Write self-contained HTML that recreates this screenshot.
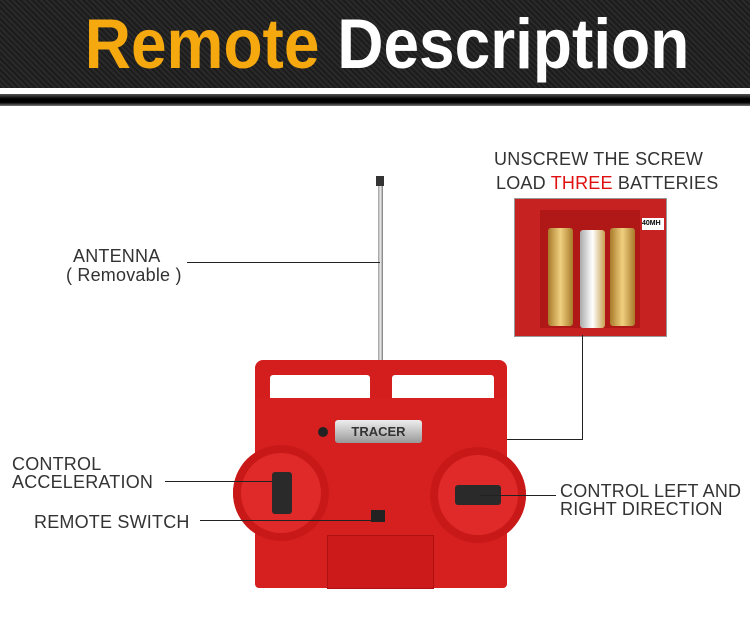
<!DOCTYPE html>
<html><head><meta charset="utf-8"><style>
body{margin:0;width:750px;height:633px;background:#fff;position:relative;overflow:hidden;font-family:"Liberation Sans",sans-serif}
.a{position:absolute}
.t{position:absolute;font-size:18px;color:#333;line-height:18px;letter-spacing:0.2px}
.l{position:absolute;background:#222}
</style></head><body>
<div class="a" style="left:0;top:0;width:750px;height:88px;background:repeating-linear-gradient(45deg,#1c1c1c 0 2px,#2a2a2a 2px 4px)"></div>
<div class="a" style="left:12px;top:8px;width:750px;text-align:center;font:bold 64px 'Liberation Sans',sans-serif;letter-spacing:0;line-height:72px;transform:scaleY(1.1)"><span style="color:#f6a80f">Remote</span> <span style="color:#fff">Description</span></div>
<div class="a" style="left:0;top:94px;width:750px;height:12px;background:linear-gradient(#555,#000 40%,#000 70%,#777)"></div>

<div class="a" style="left:376px;top:176px;width:8px;height:10px;background:#333"></div>
<div class="a" style="left:378px;top:186px;width:5px;height:176px;background:linear-gradient(90deg,#999,#eee,#777)"></div>

<div class="a" style="left:255px;top:360px;width:252px;height:42px;background:#d41d1d;border-radius:8px 8px 0 0"></div>
<div class="a" style="left:270px;top:375px;width:100px;height:25px;background:#fff;border-radius:3px 3px 0 0"></div>
<div class="a" style="left:392px;top:375px;width:102px;height:25px;background:#fff;border-radius:3px 3px 0 0"></div>
<div class="a" style="left:255px;top:398px;width:252px;height:190px;background:#d62020;border-radius:0 0 4px 4px"></div>
<div class="a" style="left:327px;top:535px;width:105px;height:52px;background:#cc1a1a;border:1px solid #b01010"></div>
<div class="a" style="left:318px;top:427px;width:10px;height:10px;border-radius:50%;background:#222"></div>
<div class="a" style="left:335px;top:420px;width:87px;height:23px;background:linear-gradient(#eee,#999);border-radius:3px;font:bold 13px 'Liberation Sans',sans-serif;text-align:center;line-height:23px;color:#333">TRACER</div>
<div class="a" style="left:233px;top:445px;width:96px;height:96px;border-radius:50%;background:#e02a2a;box-shadow:inset 0 0 0 8px #c81818"></div>
<div class="a" style="left:430px;top:447px;width:96px;height:96px;border-radius:50%;background:#e02a2a;box-shadow:inset 0 0 0 8px #c81818"></div>
<div class="a" style="left:272px;top:472px;width:20px;height:42px;background:#2a2a2a;border-radius:3px"></div>
<div class="a" style="left:455px;top:485px;width:46px;height:20px;background:#2a2a2a;border-radius:3px"></div>
<div class="a" style="left:371px;top:510px;width:14px;height:12px;background:#222"></div>

<div class="a" style="left:514px;top:198px;width:151px;height:137px;background:#c62222;border:1px solid #999"></div>
<div class="a" style="left:540px;top:210px;width:100px;height:118px;background:#b01818"></div>
<div class="a" style="left:548px;top:228px;width:25px;height:98px;background:linear-gradient(90deg,#a87a2a,#f0d080,#a87a2a);border-radius:3px"></div>
<div class="a" style="left:580px;top:230px;width:25px;height:98px;background:linear-gradient(90deg,#aaa,#fff,#c9a050);border-radius:3px"></div>
<div class="a" style="left:610px;top:228px;width:25px;height:98px;background:linear-gradient(90deg,#a87a2a,#f0d080,#a87a2a);border-radius:3px"></div>
<div class="a" style="left:642px;top:218px;width:22px;height:12px;background:#fff;font:bold 7px sans-serif;line-height:12px">40MH</div>

<div class="t" style="left:494px;top:150px">UNSCREW THE SCREW</div>
<div class="t" style="left:496px;top:174px">LOAD <span style="color:#e01010">THREE</span> BATTERIES</div>
<div class="t" style="left:73px;top:247px">ANTENNA</div>
<div class="t" style="left:66px;top:266px">( Removable )</div>
<div class="t" style="left:12px;top:455px">CONTROL</div>
<div class="t" style="left:12px;top:473px">ACCELERATION</div>
<div class="t" style="left:34px;top:513px">REMOTE SWITCH</div>
<div class="t" style="left:560px;top:482px">CONTROL LEFT AND</div>
<div class="t" style="left:560px;top:500px">RIGHT DIRECTION</div>

<div class="l" style="left:187px;top:262px;width:193px;height:1px"></div>
<div class="l" style="left:507px;top:439px;width:76px;height:1px"></div>
<div class="l" style="left:582px;top:335px;width:1px;height:105px"></div>
<div class="l" style="left:165px;top:481px;width:107px;height:1px"></div>
<div class="l" style="left:200px;top:520px;width:176px;height:1px"></div>
<div class="l" style="left:480px;top:495px;width:76px;height:1px"></div>
</body></html>
